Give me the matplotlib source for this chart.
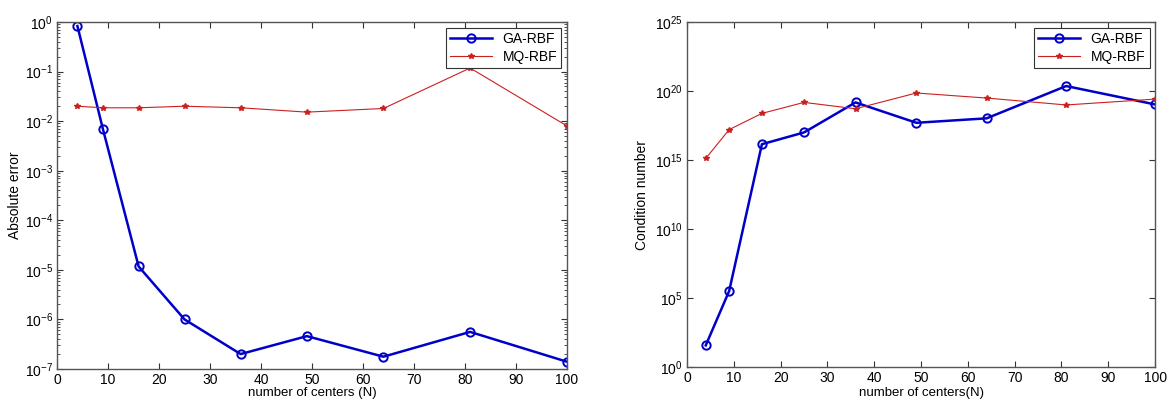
import matplotlib
matplotlib.use("Agg")
import matplotlib.pyplot as plt
from matplotlib.ticker import LogLocator, NullFormatter, FixedLocator

N = [4, 9, 16, 25, 36, 49, 64, 81, 100]
err_ga = [0.83, 6.9e-3, 1.17e-5, 1.0e-6, 2.0e-7, 4.6e-7, 1.77e-7, 5.6e-7, 1.4e-7]
err_mq = [0.020, 0.0186, 0.0186, 0.020, 0.0186, 0.0152, 0.018, 0.118, 0.0080]
cond_ga = [37, 3.2e5, 1.4e16, 1.0e17, 1.5e19, 5.0e17, 1.05e18, 2.3e20, 1.07e19]
cond_mq = [1.3e15, 1.6e17, 2.4e18, 1.5e19, 5.2e18, 7.2e19, 3.1e19, 9.8e18, 2.6e19]
xticks = list(range(0, 101, 10))

plt.rcParams['font.family'] = ['Liberation Sans', 'DejaVu Sans']
fig = plt.figure(figsize=(11.71, 4.03), dpi=100)
ax1 = fig.add_axes([0.0487, 0.0844, 0.4355, 0.861])
ax2 = fig.add_axes([0.5867, 0.0893, 0.3997, 0.856])

blue = '#0000c8'
red = '#cc2020'
for ax, ga, mq in [(ax1, err_ga, err_mq), (ax2, cond_ga, cond_mq)]:
    ax.plot(N, ga, '-o', color=blue, lw=1.8, ms=6, mfc='none', mew=1.4, label='GA-RBF')
    ax.plot(N, mq, '-*', color=red, lw=0.8, ms=4, label='MQ-RBF')
    ax.set_yscale('log')
    ax.set_xlim(0, 100)
    ax.xaxis.set_major_locator(FixedLocator(xticks))
    ax.tick_params(direction='in', which='both', top=True, right=True,
                   labelsize=10, colors='#333333', length=4, pad=3)
    ax.tick_params(which='both', labelcolor='black')
    for s in ax.spines.values():
        s.set_color('#555555')
        s.set_linewidth(1.0)
    leg = ax.legend(loc='upper right', fontsize=10, fancybox=False,
                    edgecolor='#333333', framealpha=1, borderaxespad=0.4,
                    handlelength=3.0, borderpad=0.3, labelspacing=0.3)
    leg.get_frame().set_linewidth(0.8)

ax1.set_ylim(1e-7, 1e0)
ax1.yaxis.set_major_locator(LogLocator(base=10, numticks=20))
ax1.yaxis.set_minor_locator(LogLocator(base=10, subs=range(2, 10), numticks=20))
ax1.yaxis.set_minor_formatter(NullFormatter())
ax1.tick_params(which='minor', length=2)
ax1.set_xlabel('number of centers (N)', fontsize=9.5, labelpad=0)
ax1.set_ylabel('Absolute error', fontsize=10, labelpad=2)

ax2.set_ylim(1e0, 1e25)
ax2.yaxis.set_major_locator(FixedLocator([10.0**k for k in range(0, 26, 5)]))
ax2.yaxis.set_minor_locator(FixedLocator([]))
ax2.set_xlabel('number of centers(N)', fontsize=9.5, labelpad=1)
ax2.set_ylabel('Condition number', fontsize=10, labelpad=4)

fig.savefig('out.png', dpi=100, facecolor='white')
